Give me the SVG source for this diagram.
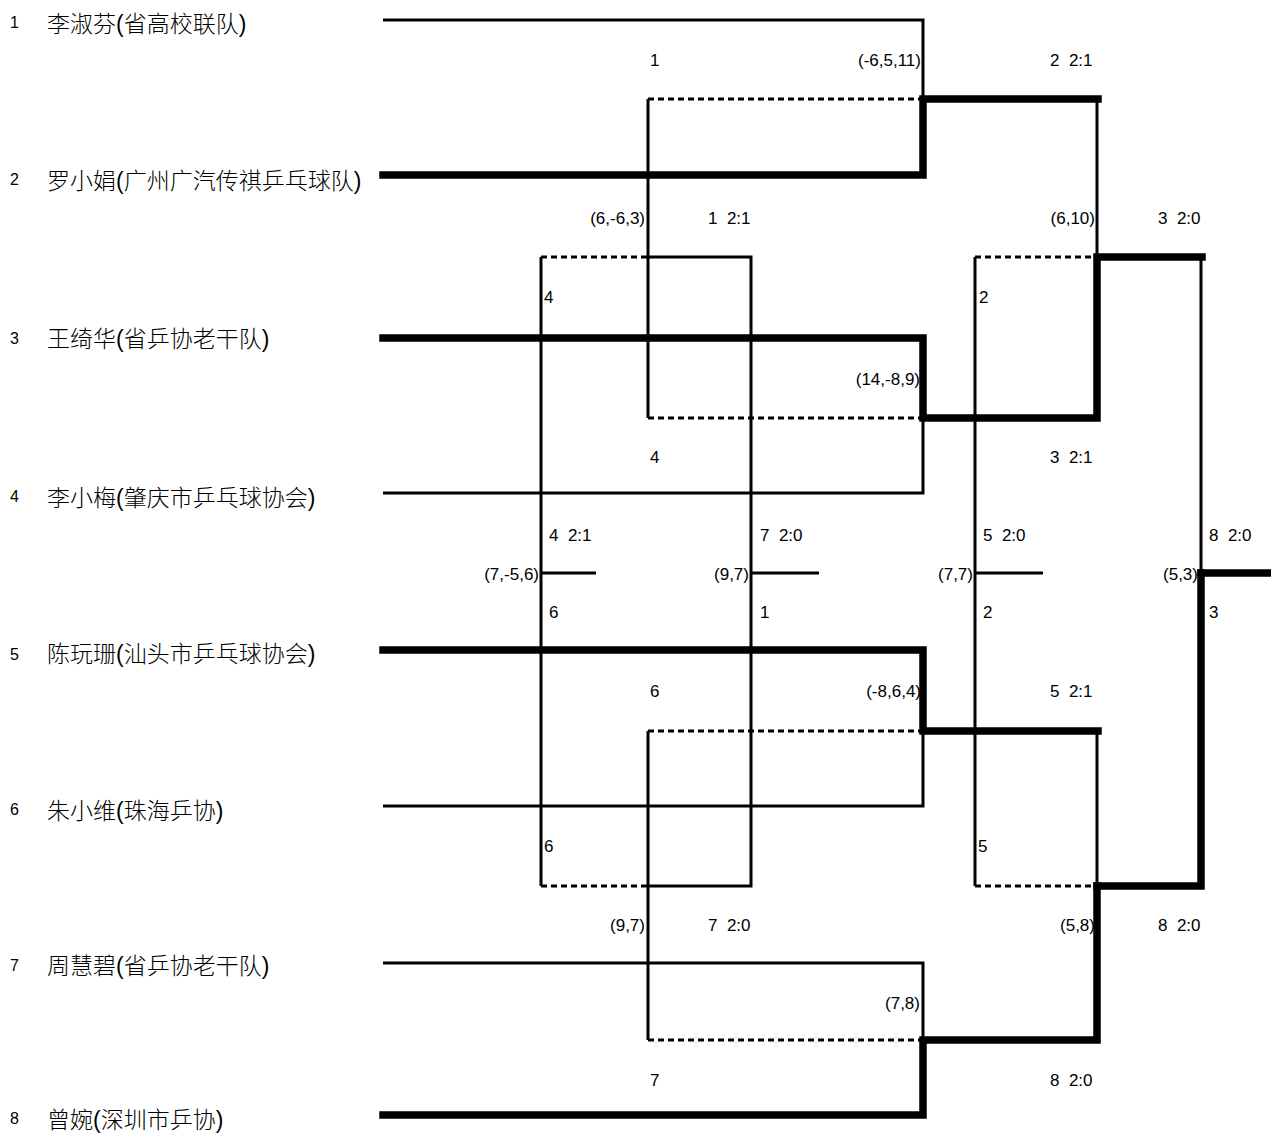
<svg xmlns="http://www.w3.org/2000/svg" width="1271" height="1135" viewBox="0 0 1271 1135">
<style>
.num{font-family:"Liberation Sans",Arial,sans-serif;font-size:16px;fill:#000}
.name{font-family:"Liberation Sans","Noto Sans CJK SC",sans-serif;font-size:23px;font-weight:300;fill:#000}
.lbl{font-family:"Liberation Sans",Arial,sans-serif;font-size:17px;fill:#000;white-space:pre}
.r{text-anchor:end}
.thin{fill:none;stroke:#000;stroke-width:3}
.thick{fill:none;stroke:#000;stroke-width:7.5;stroke-linejoin:miter;stroke-linecap:square}
.dash{fill:none;stroke:#000;stroke-width:3;stroke-dasharray:6 4}
</style>
<rect width="1271" height="1135" fill="#fff"/>
<g id="players">
<g id="p1"><text class="num" x="10" y="28">1</text><text class="name" x="47" y="32">李淑芬(省高校联队)</text></g>
<g id="p2"><text class="num" x="10" y="185">2</text><text class="name" x="47" y="189">罗小娟(广州广汽传祺乒乓球队)</text></g>
<g id="p3"><text class="num" x="10" y="344">3</text><text class="name" x="47" y="347">王绮华(省乒协老干队)</text></g>
<g id="p4"><text class="num" x="10" y="502">4</text><text class="name" x="47" y="506">李小梅(肇庆市乒乓球协会)</text></g>
<g id="p5"><text class="num" x="10" y="660">5</text><text class="name" x="47" y="662">陈玩珊(汕头市乒乓球协会)</text></g>
<g id="p6"><text class="num" x="10" y="815">6</text><text class="name" x="47" y="819">朱小维(珠海乒协)</text></g>
<g id="p7"><text class="num" x="10" y="971">7</text><text class="name" x="47" y="974">周慧碧(省乒协老干队)</text></g>
<g id="p8"><text class="num" x="10" y="1124">8</text><text class="name" x="47" y="1128">曾婉(深圳市乒协)</text></g>
</g>
<g id="connectors">
<path class="thin" d="M383,20 H923 V99"/>
<path class="thin" d="M1097,99 V257"/>
<path class="thin" d="M648,99 V418"/>
<path class="dash" d="M648,99 H923"/>
<path class="dash" d="M648,418 H923"/>
<path class="thin" d="M383,493 H923 V418"/>
<path class="thin" d="M1201,257 V573"/>
<path class="thin" d="M383,806 H923 V731"/>
<path class="thin" d="M1097,731 V886"/>
<path class="thin" d="M383,963 H923 V1040"/>
<path class="thin" d="M648,731 V1040"/>
<path class="dash" d="M648,731 H923"/>
<path class="dash" d="M648,1040 H923"/>
<path class="thin" d="M541,257 V886"/>
<path class="dash" d="M541,257 H648"/>
<path class="dash" d="M541,886 H648"/>
<path class="thin" d="M648,257 H751 V886 H648"/>
<path class="thin" d="M975,257 V886"/>
<path class="dash" d="M975,257 H1097"/>
<path class="dash" d="M975,886 H1097"/>
<path class="thin" d="M541,573 H596"/>
<path class="thin" d="M751,573 H819"/>
<path class="thin" d="M975,573 H1043"/>
<path class="thick" d="M383,175 H923 V99 H1098"/>
<path class="thick" d="M383,338 H923 V418 H1097 V257 H1202"/>
<path class="thick" d="M1201,573 H1275"/>
<path class="thick" d="M1201,573 V886 H1097"/>
<path class="thick" d="M383,650 H923 V731 H1098"/>
<path class="thick" d="M383,1115 H923 V1040 H1097 V886"/>
</g>
<g id="labels">
<text class="lbl" x="650" y="66">1</text>
<text class="lbl r" x="921" y="66">(-6,5,11)</text>
<text class="lbl" x="1050" y="66">2  2:1</text>
<text class="lbl r" x="645" y="224">(6,-6,3)</text>
<text class="lbl" x="708" y="224">1  2:1</text>
<text class="lbl r" x="1095" y="224">(6,10)</text>
<text class="lbl" x="1158" y="224">3  2:0</text>
<text class="lbl" x="544" y="303">4</text>
<text class="lbl" x="979" y="303">2</text>
<text class="lbl r" x="920" y="385">(14,-8,9)</text>
<text class="lbl" x="650" y="463">4</text>
<text class="lbl" x="1050" y="463">3  2:1</text>
<text class="lbl" x="549" y="541">4  2:1</text>
<text class="lbl" x="760" y="541">7  2:0</text>
<text class="lbl" x="983" y="541">5  2:0</text>
<text class="lbl" x="1209" y="541">8  2:0</text>
<text class="lbl r" x="539" y="580">(7,-5,6)</text>
<text class="lbl r" x="749" y="580">(9,7)</text>
<text class="lbl r" x="973" y="580">(7,7)</text>
<text class="lbl r" x="1198" y="580">(5,3)</text>
<text class="lbl" x="549" y="618">6</text>
<text class="lbl" x="760" y="618">1</text>
<text class="lbl" x="983" y="618">2</text>
<text class="lbl" x="1209" y="618">3</text>
<text class="lbl" x="650" y="697">6</text>
<text class="lbl r" x="921" y="697">(-8,6,4)</text>
<text class="lbl" x="1050" y="697">5  2:1</text>
<text class="lbl" x="544" y="852">6</text>
<text class="lbl" x="978" y="852">5</text>
<text class="lbl r" x="645" y="931">(9,7)</text>
<text class="lbl" x="708" y="931">7  2:0</text>
<text class="lbl r" x="1095" y="931">(5,8)</text>
<text class="lbl" x="1158" y="931">8  2:0</text>
<text class="lbl r" x="920" y="1009">(7,8)</text>
<text class="lbl" x="650" y="1086">7</text>
<text class="lbl" x="1050" y="1086">8  2:0</text>
</g>
</svg>
